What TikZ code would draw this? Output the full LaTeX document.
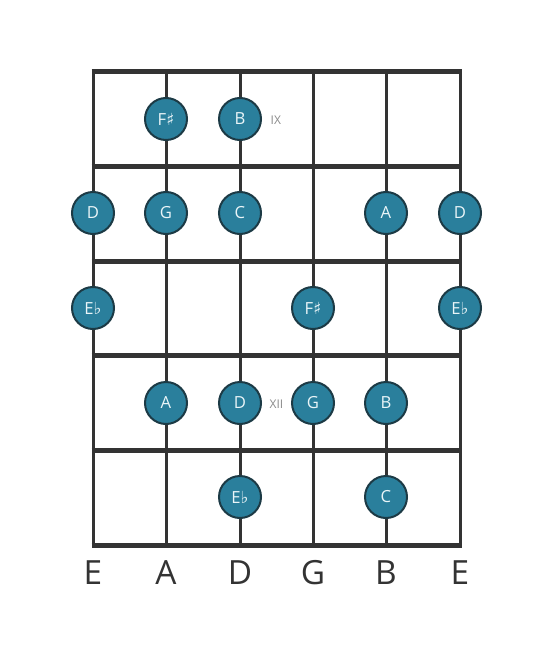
\documentclass[tikz,border=0pt]{standalone}
\usepackage{fontspec}
\setmainfont{Open Sans}
\newfontfamily\symfont{DejaVu Sans}
\definecolor{linec}{HTML}{333333}
\definecolor{notefill}{HTML}{2A7F9C}
\definecolor{noteedge}{HTML}{1C3A45}
\definecolor{notetext}{HTML}{EAF5F8}
\definecolor{markc}{HTML}{8A8A8A}
\newcommand{\shp}{{\symfont\fontsize{12.5}{12}\selectfont\char"266F}}
\newcommand{\flt}{{\symfont\fontsize{12.5}{12}\selectfont\char"266D}}
\begin{document}
\begin{tikzpicture}[x=0.75pt,y=-0.75pt,
  fretline/.style={line width=3.75pt,color=linec},
  stringline/.style={line width=2.25pt,color=linec},
  note/.style={circle,draw=noteedge,line width=1.5pt,fill=notefill,minimum size=31.5pt,inner sep=0pt,text=notetext,font=\fontsize{12.5}{12}\selectfont},
  strlabel/.style={font=\fontsize{25}{25}\selectfont,text=linec},
  fretmark/.style={font=\fontsize{9}{9}\selectfont,text=markc}]
\useasboundingbox (0,0) rectangle (553,656);
\foreach \x in {93,166,240,313,386,460} \draw[stringline] (\x,72) -- (\x,545);
\foreach \y in {72,166,261,355,450,545} \draw[fretline] (91.5,\y) -- (461.5,\y);
% row 1
\node[note] (r1a) at (166,119) {F\shp};
\node[note] (r1b) at (240,119) {B};
\node[fretmark,anchor=west] (m9) at (266,120) {IX};
% row 2
\node[note] (r2a) at (93,213) {D};
\node[note] (r2b) at (166,213) {G};
\node[note] (r2c) at (240,213) {C};
\node[note] (r2d) at (386,213) {A};
\node[note] (r2e) at (460,213) {D};
% row 3
\node[note] (r3a) at (93,308) {E\flt};
\node[note] (r3b) at (313,308) {F\shp};
\node[note] (r3c) at (460,308) {E\flt};
% row 4
\node[note] (r4a) at (166,403) {A};
\node[note] (r4b) at (240,403) {D};
\node[fretmark] (m12) at (276.5,404) {XII};
\node[note] (r4c) at (313,403) {G};
\node[note] (r4d) at (386,403) {B};
% row 5
\node[note] (r5a) at (240,497) {E\flt};
\node[note] (r5b) at (386,497) {C};
% string names
\node[strlabel] (s1) at (93,573) {E};
\node[strlabel] (s2) at (166,573) {A};
\node[strlabel] (s3) at (240,573) {D};
\node[strlabel] (s4) at (313,573) {G};
\node[strlabel] (s5) at (386,573) {B};
\node[strlabel] (s6) at (460,573) {E};
\end{tikzpicture}
\end{document}
